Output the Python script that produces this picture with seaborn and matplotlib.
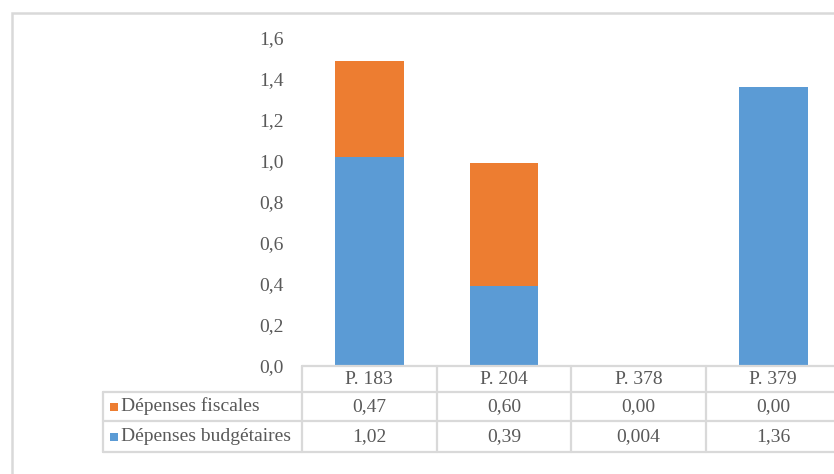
import matplotlib
matplotlib.use("Agg")
import matplotlib.pyplot as plt
import matplotlib.transforms as mtransforms
from matplotlib.patches import Rectangle
from matplotlib.lines import Line2D
import seaborn as sns
import pandas as pd

# Programme data (milliards d'euros)
programmes = ["P. 183", "P. 204", "P. 378", "P. 379"]
fiscales = [0.47, 0.60, 0.00, 0.00]
budgetaires = [1.02, 0.39, 0.004, 1.36]
fiscales_lbl = ["0,47", "0,60", "0,00", "0,00"]
budgetaires_lbl = ["1,02", "0,39", "0,004", "1,36"]
yticks = [0.0, 0.2, 0.4, 0.6, 0.8, 1.0, 1.2, 1.4, 1.6]

ORANGE = "#ED7D31"
BLUE = "#5B9BD5"
GRID = "#D9D9D9"
TXT = "#595959"

sns.set_theme(style="white")
plt.rcParams["font.family"] = ["Liberation Serif", "DejaVu Serif"]

W, H = 834, 474
fig = plt.figure(figsize=(W / 100, H / 100), dpi=100)

# axes in pixel geometry: x from 302 to 840, y from 38 (top) to 366 (bottom)
left, right, top, bottom = 302, 840.5, 38, 366
ax = fig.add_axes([left / W, 1 - bottom / H, (right - left) / W, (bottom - top) / H])

df = pd.DataFrame({
    "programme": programmes,
    "total": [f + b for f, b in zip(fiscales, budgetaires)],
    "budget": budgetaires,
})

# stacked bars: total drawn in orange, budget portion overlaid in blue
sns.barplot(data=df, x="programme", y="total", color=ORANGE, saturation=1,
            width=0.51, ax=ax, linewidth=0)
sns.barplot(data=df, x="programme", y="budget", color=BLUE, saturation=1,
            width=0.51, ax=ax, linewidth=0)

fs = 14

ax.set_xlim(-0.5, 3.5)
ax.set_ylim(0, 1.6)
ax.set_yticks(yticks)
ax.set_yticklabels([f"{v:.1f}".replace(".", ",") for v in yticks])
ax.tick_params(axis="y", length=0, pad=13, labelsize=fs, labelcolor=TXT)
ax.set_xticks([])
ax.set_xlabel("")
ax.set_ylabel("")
for s in ax.spines.values():
    s.set_visible(False)

# data table under the plot
trans = mtransforms.blended_transform_factory(ax.transData, ax.transAxes)
ah = bottom - top
def yax(px):
    return (bottom - px) / ah

x_hdr = -0.5 - (left - 103) / 134.5
x_end = 4.0
rows = [366, 392, 421, 452]
lw = 1.6

# horizontal lines
ax.add_line(Line2D([-0.5, x_end], [yax(rows[0])] * 2, transform=trans, color=GRID, lw=lw, clip_on=False))
for r in rows[1:]:
    ax.add_line(Line2D([x_hdr, x_end], [yax(r)] * 2, transform=trans, color=GRID, lw=lw, clip_on=False))
# vertical lines
ax.add_line(Line2D([x_hdr, x_hdr], [yax(rows[1]), yax(rows[3])], transform=trans, color=GRID, lw=lw, clip_on=False))
for i in range(4):
    xv = i - 0.5
    ax.add_line(Line2D([xv, xv], [yax(rows[0]), yax(rows[3])], transform=trans, color=GRID, lw=lw, clip_on=False))

for i, p in enumerate(programmes):
    ax.text(i, yax((rows[0] + rows[1]) / 2), p, transform=trans, ha="center", va="center",
            fontsize=fs, color=TXT, clip_on=False)
    ax.text(i, yax((rows[1] + rows[2]) / 2), fiscales_lbl[i], transform=trans, ha="center",
            va="center", fontsize=fs, color=TXT, clip_on=False)
    ax.text(i, yax((rows[2] + rows[3]) / 2), budgetaires_lbl[i], transform=trans, ha="center",
            va="center", fontsize=fs, color=TXT, clip_on=False)

# series labels with colour keys
for (r0, r1), name, col in [((rows[1], rows[2]), "Dépenses fiscales", ORANGE),
                            ((rows[2], rows[3]), "Dépenses budgétaires", BLUE)]:
    yc = (r0 + r1) / 2
    fig.add_artist(Rectangle((110 / W, 1 - (yc + 4) / H), 8 / W, 8 / H,
                             transform=fig.transFigure, color=col, lw=0))
    fig.text(121 / W, 1 - yc / H, name, ha="left", va="center", fontsize=fs, color=TXT)

# chart frame
fig.add_artist(Rectangle((12 / W, -0.1), 1.2, 1 - 13 / H + 0.1, transform=fig.transFigure,
                         fill=False, edgecolor=GRID, lw=1.8))

fig.savefig("out.png", dpi=100)
